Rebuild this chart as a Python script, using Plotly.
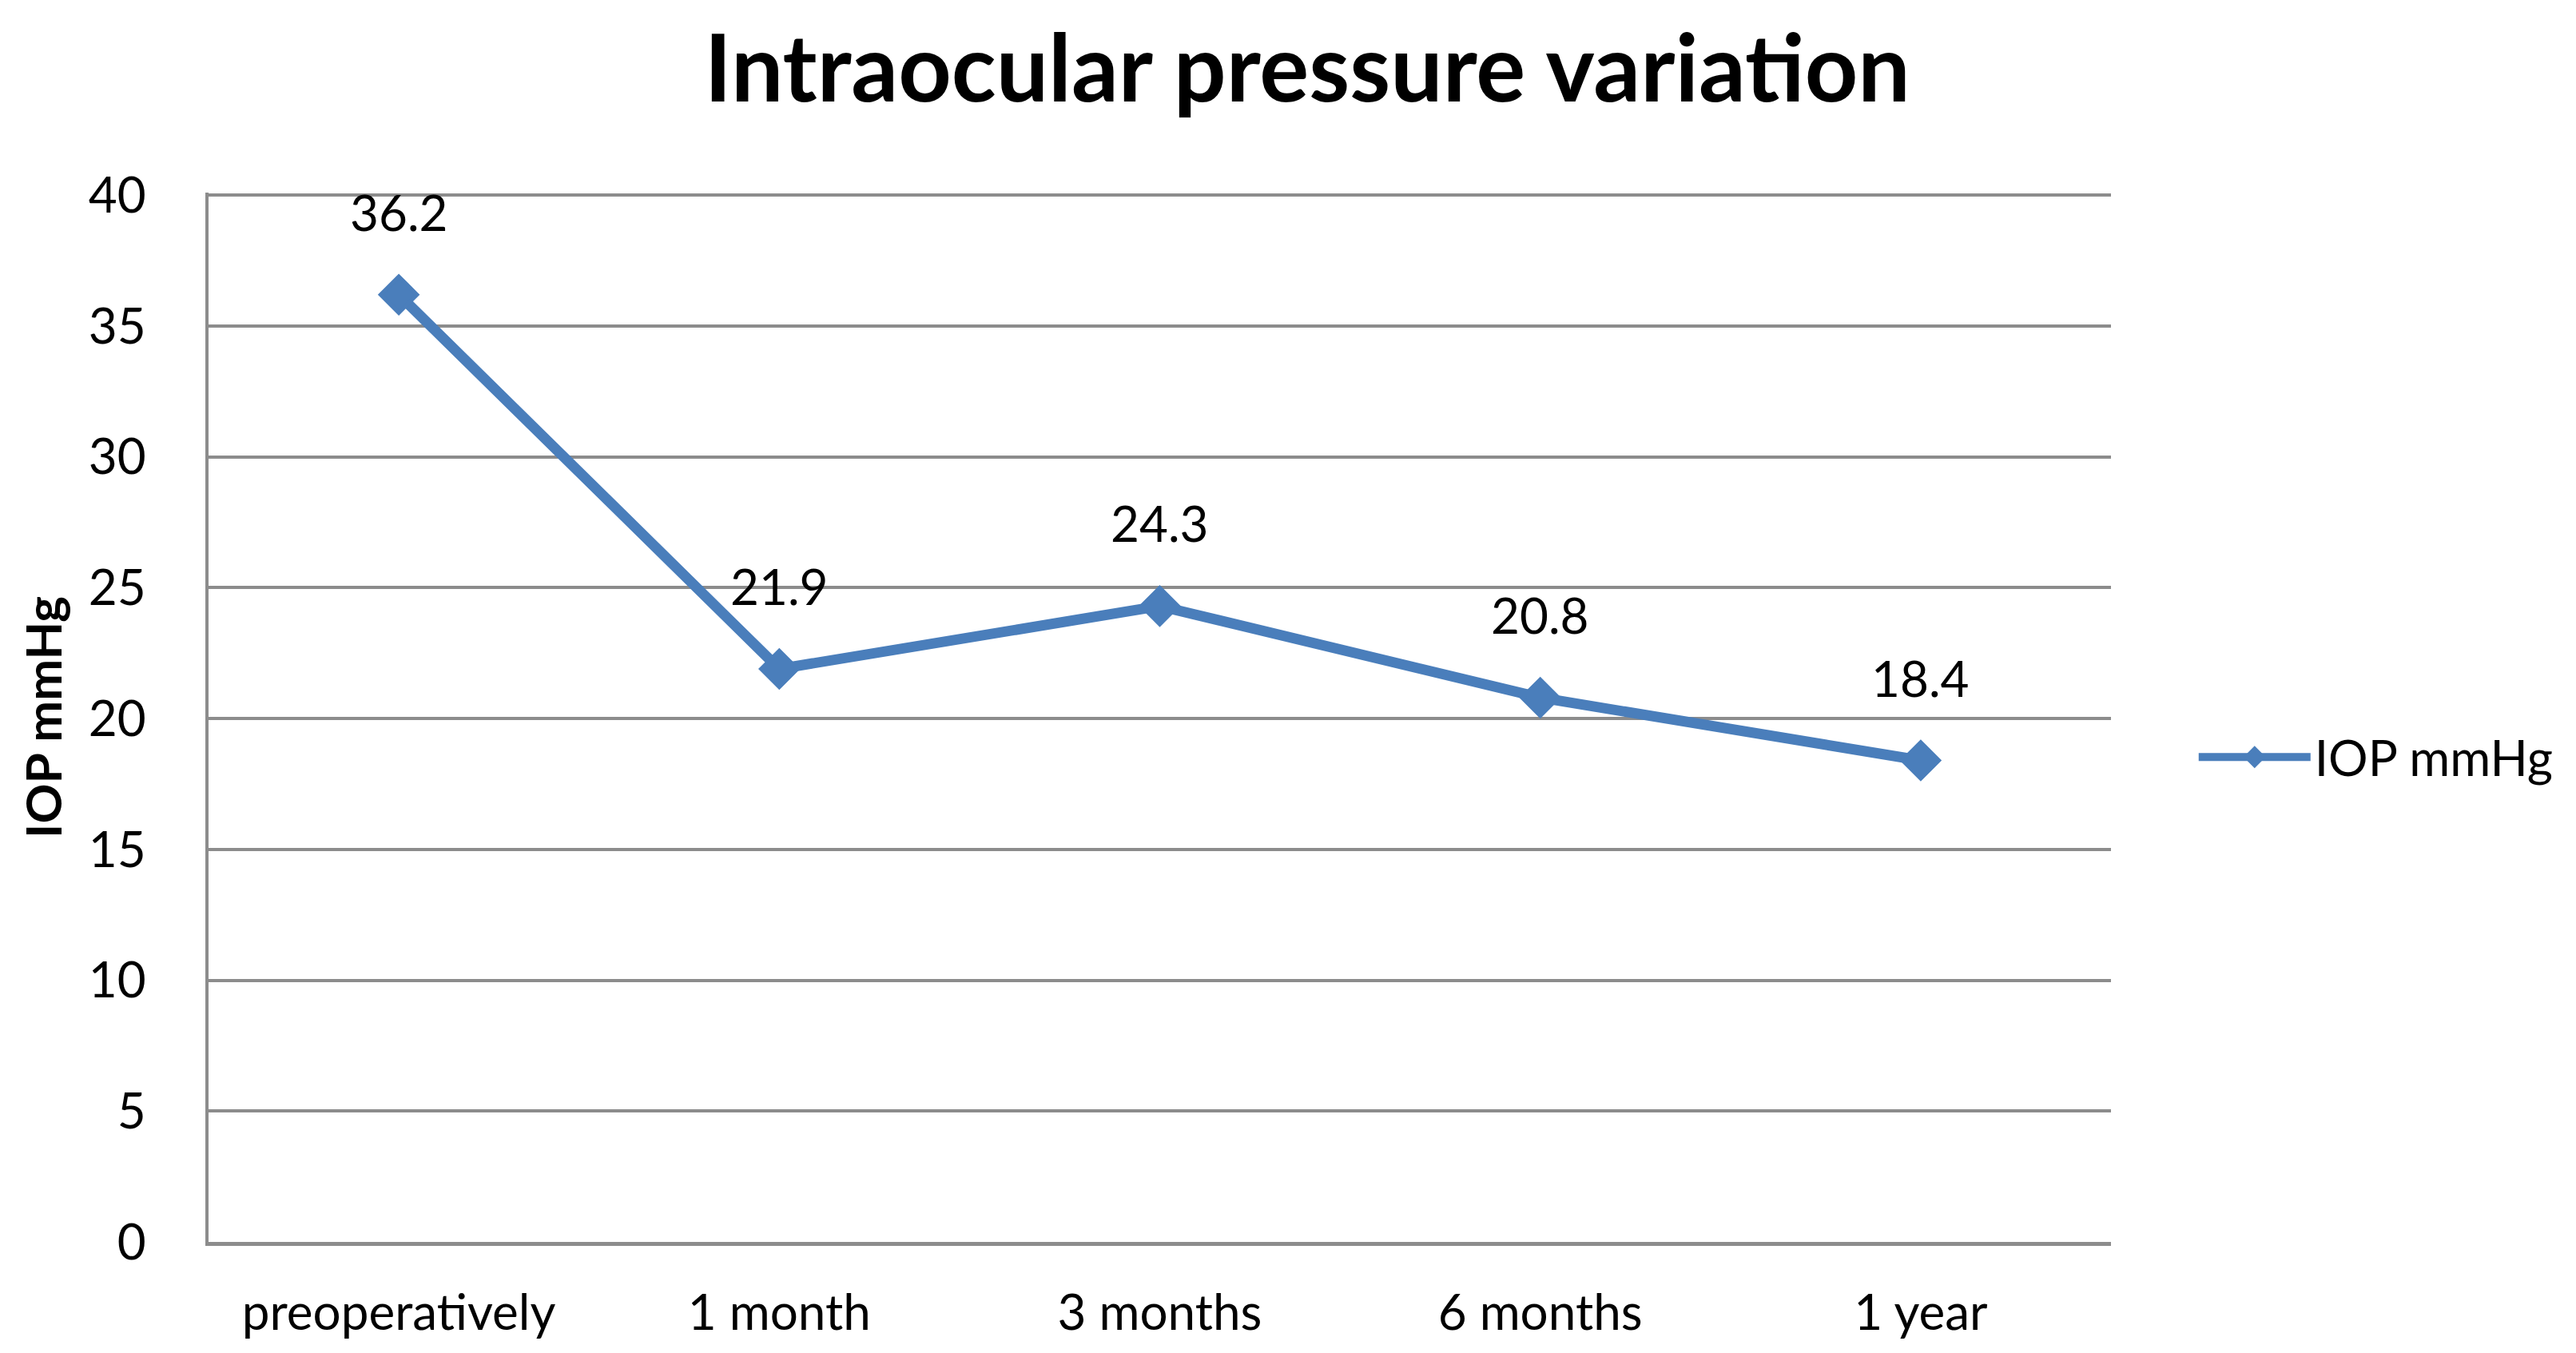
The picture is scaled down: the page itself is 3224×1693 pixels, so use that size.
import plotly.graph_objects as go

categories = ["preoperatively", "1 month", "3 months", "6 months", "1 year"]
iop_values = [36.2, 21.9, 24.3, 20.8, 18.4]
y_ticks = [0, 5, 10, 15, 20, 25, 30, 35, 40]
series_name = "IOP mmHg"
title_text = "Intraocular pressure variation"
y_title = "IOP mmHg"

W, H = 3224, 1693
FONT = "Lato"
BLUE = "#4A7EBB"
GRID = "#8C8C8C"

fig = go.Figure()
fig.add_trace(go.Scatter(
    x=categories, y=iop_values, name=series_name,
    mode="lines+markers",
    line=dict(color=BLUE, width=13),
    marker=dict(symbol="diamond", size=35, color=BLUE,
                line=dict(color=BLUE, width=5)),
))

for c, v in zip(categories, iop_values):
    fig.add_annotation(x=c, y=v, text=f"{v}", showarrow=False, yshift=104,
                       font=dict(family=FONT, size=62, color="#000000"))

fig.update_layout(
    width=W, height=H,
    paper_bgcolor="white", plot_bgcolor="white",
    margin=dict(l=253, r=590, t=233, b=147),
    title=dict(text=f"<b>{title_text}</b>", x=0.505, xanchor="center", xref="container",
               y=1 - 78 / H, yanchor="middle", yref="container",
               font=dict(family=FONT, size=116, color="#000000")),
    showlegend=True,
    legend=dict(x=1.044, xanchor="left", y=0.462, yanchor="middle",
                font=dict(family=FONT, size=62, color="#000000"),
                itemwidth=140, bgcolor="rgba(0,0,0,0)"),
    font=dict(family=FONT, color="#000000"),
)

fig.update_xaxes(
    type="category", range=[-0.5, len(categories) - 0.5],
    showgrid=False, showline=True, linecolor=GRID, linewidth=5,
    ticks="", tickfont=dict(family=FONT, size=62, color="#000000"),
    ticklabelstandoff=31, zeroline=False,
)
fig.update_yaxes(
    range=[0, 40.1], tickvals=y_ticks,
    showgrid=True, gridcolor=GRID, gridwidth=4,
    showline=True, linecolor=GRID, linewidth=4,
    ticks="", tickfont=dict(family=FONT, size=62, color="#000000"),
    ticklabelstandoff=62, zeroline=False,
    title=dict(text=f"<b>{y_title}</b>", standoff=14,
               font=dict(family=FONT, size=62, color="#000000")),
)

fig.write_html("out.html")
